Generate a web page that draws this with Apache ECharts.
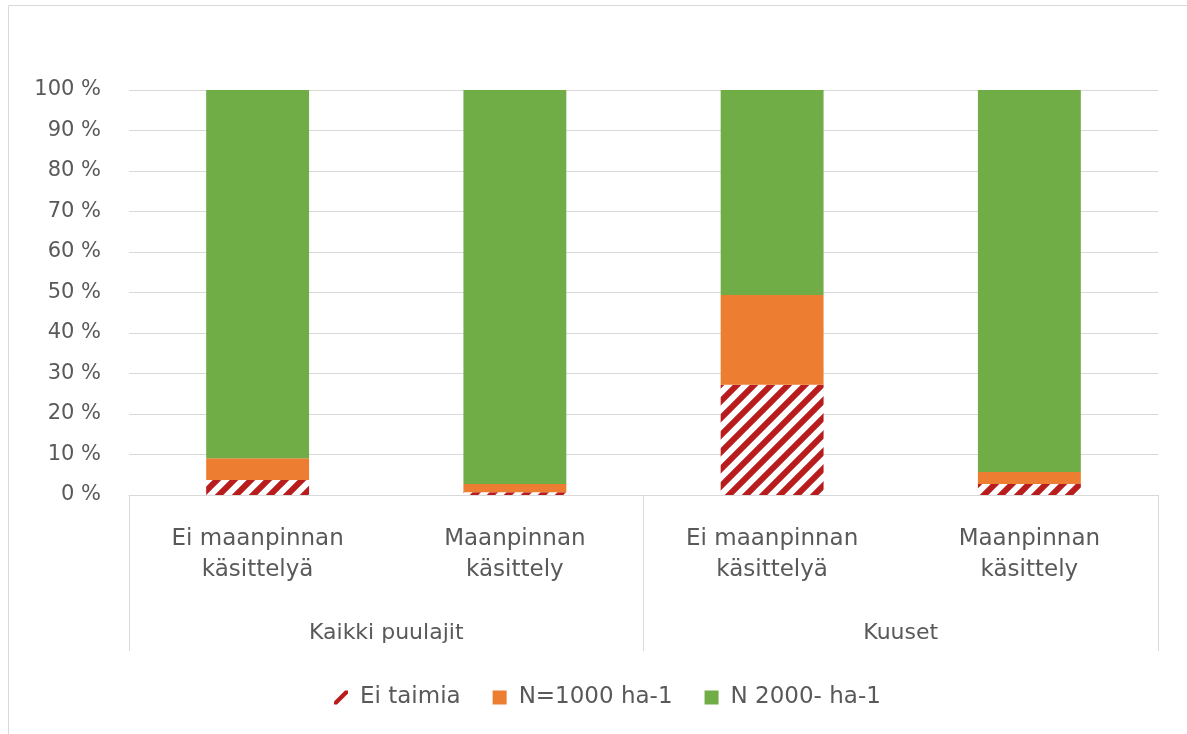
<!DOCTYPE html>
<html>
<head>
<meta charset="utf-8">
<script src="https://cdn.jsdelivr.net/npm/echarts@6/dist/echarts.min.js"></script>
<style>
  html, body { margin: 0; padding: 0; background: #ffffff; }
  #chart { width: 1187px; height: 734px; }
</style>
</head>
<body>
<div id="chart"></div>
<script>
// Stacked shares (%) per treatment
const categories = ['Ei maanpinnan\nkäsittelyä', 'Maanpinnan\nkäsittely', 'Ei maanpinnan\nkäsittelyä', 'Maanpinnan\nkäsittely'];
const groups = ['Kaikki puulajit', 'Kuuset'];
const seriesNames = ['Ei taimia', 'N=1000 ha-1', 'N 2000- ha-1'];
const eiTaimia = [3.7, 0.7, 27.2, 2.7];
const n1000 = [5.4, 2.0, 22.2, 3.0];
const n2000 = [90.9, 97.3, 50.6, 94.3];
const yTicks = [0, 10, 20, 30, 40, 50, 60, 70, 80, 90, 100];

const FONT = 'DejaVu Sans';
const TEXT = '#595959';
const LINE = '#d9d9d9';
const HATCH_RED = '#b81c1c';

// Diagonal red/white hatch used for the "Ei taimia" segments
function hatchPattern() {
  const s = 17;
  const c = document.createElement('canvas');
  c.width = s; c.height = s;
  const g = c.getContext('2d');
  g.fillStyle = '#ffffff';
  g.fillRect(0, 0, s, s);
  g.strokeStyle = HATCH_RED;
  g.lineWidth = 6;
  g.lineCap = 'square';
  for (const k of [-s, 0, s]) {
    g.beginPath();
    g.moveTo(k - 4, s + 4);
    g.lineTo(k + s + 4, -4);
    g.stroke();
  }
  return c;
}

const chart = echarts.init(document.getElementById('chart'), null, { renderer: 'canvas' });

chart.setOption({
  animation: false,
  backgroundColor: '#ffffff',
  graphic: [{
    type: 'rect',
    shape: { x: 8.5, y: 5.5, width: 1200, height: 760 },
    style: { fill: 'none', stroke: LINE, lineWidth: 1 },
    silent: true,
    z: -1
  }],
  grid: { left: 129, right: 29, top: 90, bottom: 239, containLabel: false },
  legend: {
    left: 329,
    top: 681,
    itemWidth: 14,
    itemHeight: 14,
    itemGap: 32,
    textStyle: { fontFamily: FONT, fontSize: 23, color: TEXT, padding: [0, 0, 0, 7] },
    data: [
      { name: seriesNames[0], icon: 'path://M0,14 L3,14 L14,3 L14,0 L11,0 L0,11 Z', itemStyle: { color: HATCH_RED } },
      { name: seriesNames[1], icon: 'rect' },
      { name: seriesNames[2], icon: 'rect' }
    ]
  },
  xAxis: [
    {
      type: 'category',
      data: categories,
      position: 'bottom',
      axisLine: { show: true, lineStyle: { color: LINE, width: 1 } },
      axisTick: { show: false },
      axisLabel: { fontFamily: FONT, fontSize: 23, color: TEXT, lineHeight: 31, margin: 29, interval: 0 }
    },
    {
      type: 'category',
      data: groups,
      position: 'bottom',
      axisLine: { show: false },
      axisTick: { show: true, length: 156, lineStyle: { color: LINE, width: 1 }, interval: 0 },
      axisLabel: { fontFamily: FONT, fontSize: 22, color: TEXT, lineHeight: 24, margin: 126, interval: 0 }
    }
  ],
  yAxis: {
    type: 'value',
    min: yTicks[0],
    max: yTicks[yTicks.length - 1],
    interval: 10,
    axisLine: { show: false },
    axisTick: { show: false },
    splitLine: { lineStyle: { color: LINE, width: 1 } },
    axisLabel: { fontFamily: FONT, fontSize: 21, color: TEXT, margin: 28, formatter: '{value} %' }
  },
  series: [
    {
      name: seriesNames[0], type: 'bar', stack: 'total', xAxisIndex: 0, barWidth: '40%',
      itemStyle: { color: { image: hatchPattern(), repeat: 'repeat' } },
      data: eiTaimia
    },
    {
      name: seriesNames[1], type: 'bar', stack: 'total', xAxisIndex: 0, barWidth: '40%',
      itemStyle: { color: '#ed7d31' },
      data: n1000
    },
    {
      name: seriesNames[2], type: 'bar', stack: 'total', xAxisIndex: 0, barWidth: '40%',
      itemStyle: { color: '#70ad47' },
      data: n2000
    }
  ]
});
</script>
</body>
</html>
